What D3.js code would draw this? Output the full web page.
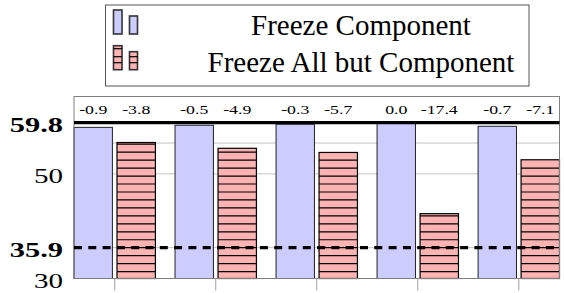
<!DOCTYPE html>
<html>
<head>
<meta charset="utf-8">
<script src="https://cdn.jsdelivr.net/npm/d3@7"></script>
</head>
<body style="margin:0">
<script>
// data
var components = ["C1", "C2", "C3", "C4", "C5"];
var freezeComponent = [58.9, 59.3, 59.5, 59.8, 59.1];
var freezeAllBut = [56.0, 54.9, 54.1, 42.4, 52.7];
var fullScore = 59.8;     // thick solid line
var baseScore = 35.9;     // dashed line
var yTicks = [30, 35.9, 50, 59.8];
var boldTicks = [35.9, 59.8];
var gridValues = [35.9, 50, 55.9, 59.8];
var seriesNames = ["Freeze Component", "Freeze All but Component"];

var W = 564, H = 293;
var plot = {left: 74, right: 559.5, top: 96.5, bottom: 278.5};
var blueFill = "#ccccff", redFill = "#ffb3b3";
var fontName = "Liberation Serif";
var stretch = 1.42; // plot text is drawn wider than tall in the original

var svg = d3.select("body").append("svg")
    .attr("width", W)
    .attr("height", H)
    .style("font-family", fontName);

var xPos = d3.scalePoint()
    .domain(components)
    .range([plot.left, plot.right])
    .padding(0.403);

var yPos = d3.scaleLinear()
    .domain([30, 64.8])
    .range([plot.bottom, plot.top]);

var barW = 38.4, gap = 2.3;

// gridlines
svg.append("g").selectAll("line")
    .data(gridValues)
    .enter().append("line")
    .attr("x1", plot.left).attr("x2", plot.right)
    .attr("y1", function(d) { return yPos(d); })
    .attr("y2", function(d) { return yPos(d); })
    .attr("stroke", "#c4c4c4")
    .attr("stroke-width", 1);

var bars = svg.append("g");

bars.selectAll(".blue")
    .data(freezeComponent)
    .enter().append("rect")
    .attr("class", "blue")
    .attr("x", function(d, i) { return xPos(components[i]) - gap - barW; })
    .attr("y", function(d) { return yPos(d); })
    .attr("width", barW)
    .attr("height", function(d) { return yPos(30) - yPos(d); })
    .attr("fill", blueFill)
    .attr("stroke", "#222")
    .attr("stroke-width", 1);

var redW = function(i) {
  var left = xPos(components[i]) + gap;
  return Math.min(barW, plot.right - left);
};

bars.selectAll(".red")
    .data(freezeAllBut)
    .enter().append("rect")
    .attr("class", "red")
    .attr("x", function(d, i) { return xPos(components[i]) + gap; })
    .attr("y", function(d) { return yPos(d); })
    .attr("width", function(d, i) { return redW(i); })
    .attr("height", function(d) { return yPos(30) - yPos(d); })
    .attr("fill", redFill)
    .attr("stroke", "#000")
    .attr("stroke-width", 1.2);

// horizontal hatch inside the red bars
var hatchStep = 7.96, hatchOrigin = 0.94;
freezeAllBut.forEach(function(v, i) {
  var top = yPos(v), bottom = yPos(30);
  var left = xPos(components[i]) + gap;
  var k0 = Math.ceil((top + 1 - hatchOrigin) / hatchStep);
  var k1 = Math.floor((bottom - 1 - hatchOrigin) / hatchStep);
  bars.append("g").selectAll("line")
      .data(d3.range(k0, k1 + 1))
      .enter().append("line")
      .attr("x1", left).attr("x2", left + redW(i))
      .attr("y1", function(k) { return hatchOrigin + k * hatchStep; })
      .attr("y2", function(k) { return hatchOrigin + k * hatchStep; })
      .attr("stroke", "#000")
      .attr("stroke-width", 1.2);
});

// frame
svg.append("rect")
    .attr("x", plot.left).attr("y", plot.top)
    .attr("width", plot.right - plot.left)
    .attr("height", plot.bottom - plot.top)
    .attr("fill", "none")
    .attr("stroke", "#808080")
    .attr("stroke-width", 1);

// x ticks below the axis
svg.append("g").selectAll("line")
    .data(components)
    .enter().append("line")
    .attr("x1", function(d) { return xPos(d); })
    .attr("x2", function(d) { return xPos(d); })
    .attr("y1", plot.bottom)
    .attr("y2", plot.bottom + 12)
    .attr("stroke", "#a0a0a0")
    .attr("stroke-width", 1);

// reference lines
svg.append("line")
    .attr("x1", plot.left).attr("x2", plot.right)
    .attr("y1", yPos(fullScore)).attr("y2", yPos(fullScore))
    .attr("stroke", "#000").attr("stroke-width", 3.2);

svg.append("line")
    .attr("x1", plot.left).attr("x2", plot.right)
    .attr("y1", yPos(baseScore)).attr("y2", yPos(baseScore))
    .attr("stroke", "#000").attr("stroke-width", 3.2)
    .attr("stroke-dasharray", "8,6.3");

// legend box and icons
svg.append("rect")
    .attr("x", 105.5).attr("y", 5)
    .attr("width", 423.5).attr("height", 81)
    .attr("fill", "#fff")
    .attr("stroke", "#555")
    .attr("stroke-width", 1);

var icons = [
  {fill: blueFill, y: 10},
  {fill: redFill, y: 45.7}
];
icons.forEach(function(ic, k) {
  svg.append("rect").attr("x", 113.5).attr("y", ic.y).attr("width", 8.5).attr("height", 24)
    .attr("fill", ic.fill).attr("stroke", "#333").attr("stroke-width", 1.6);
  svg.append("rect").attr("x", 129.5).attr("y", ic.y + 6).attr("width", 8).attr("height", 18)
    .attr("fill", ic.fill).attr("stroke", "#333").attr("stroke-width", 1.6);
  if (k == 1) {
    [[113.5, ic.y + 3], [113.5, ic.y + 11], [113.5, ic.y + 17],
     [129.5, ic.y + 11], [129.5, ic.y + 17]].forEach(function(p) {
      svg.append("line").attr("x1", p[0]).attr("x2", p[0] + 8.5)
        .attr("y1", p[1]).attr("y2", p[1])
        .attr("stroke", "#000").attr("stroke-width", 1.2);
    });
  }
});

// all texts straight on the svg
function addText(tx, ty, sx, size, weight, anchor, str) {
  svg.append("text")
    .attr("transform", "translate(" + tx + "," + ty + ")" + (sx != 1 ? " scale(" + sx + ",1)" : ""))
    .attr("text-anchor", anchor)
    .attr("font-family", fontName)
    .attr("font-size", size)
    .attr("font-weight", weight)
    .style("font-family", fontName)
    .text(str);
}

seriesNames.forEach(function(name, i) {
  addText(361, 35 + i * 37, 1, 29, "normal", "middle", name);
});

function diffLabel(v) { return (v - fullScore).toFixed(1).replace("-0.0", "0.0"); }

freezeComponent.forEach(function(v, i) {
  addText(xPos(components[i]) - gap - barW / 2, 113.5, stretch, 12.5, "normal", "middle", diffLabel(v));
});
freezeAllBut.forEach(function(v, i) {
  addText(xPos(components[i]) + gap + barW / 2, 113.5, stretch, 12.5, "normal", "middle", diffLabel(v));
});

yTicks.forEach(function(t) {
  var bold = boldTicks.indexOf(t) >= 0;
  addText(63, yPos(t) + 9, 1.45, bold ? 21 : 20, bold ? "bold" : "normal", "end", String(t));
});
</script>
</body>
</html>
